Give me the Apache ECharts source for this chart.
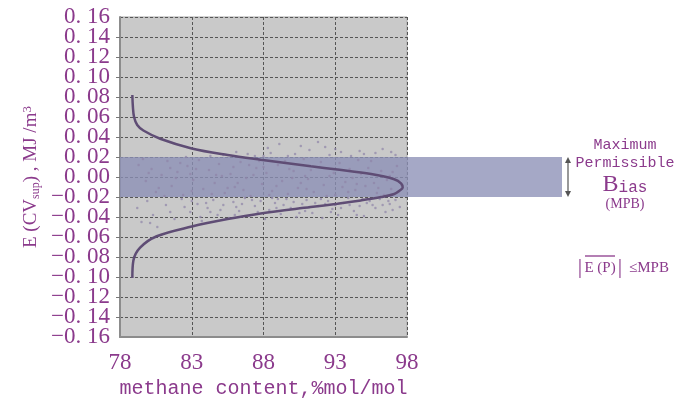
<!DOCTYPE html>
<html>
<head>
<meta charset="utf-8">
<script src="https://cdn.jsdelivr.net/npm/echarts@6/dist/echarts.min.js"></script>
<style>
html,body{margin:0;padding:0;background:#fff;}
#c{width:689px;height:404px;}
</style>
</head>
<body>
<div id="c"></div>
<script>
// ---- data ----
const xTickLabels = ['78', '83', '88', '93', '98'];
const yTickLabels = ['\u22120. 16','\u22120. 14','\u22120. 12','\u22120. 10','\u22120. 08','\u22120. 06','\u22120. 04','\u22120. 02',
  '0. 00','0. 02','0. 04','0. 06','0. 08','0. 10','0. 12','0. 14','0. 16'];

// distribution curve (methane content, E)
const curveX = [78.86, 78.9, 78.98, 79.2, 79.63, 80.8, 83.0, 85.5, 87.8, 91.3, 93.15, 95.5, 97.11, 97.6, 97.7,
  97.5, 97.11, 96.2, 94.78, 93.15, 91.29, 87.8, 85.5, 83.0, 80.56, 79.4, 78.93, 78.86];
const curveY = [0.082, 0.07, 0.06, 0.052, 0.0465, 0.0383, 0.0286, 0.022, 0.0173, 0.0107, 0.0075, 0.003, -0.0022, -0.0065, -0.0104,
  -0.0135, -0.0169, -0.02, -0.0234, -0.0267, -0.030, -0.0364, -0.042, -0.0495, -0.0592, -0.0706, -0.0836, -0.1008];

// scattered observations
const pointsAbove = [[85.2,0.022],[86.1,0.025],[87.4,0.021],[88.3,0.029],[88.5,0.024],[89.7,0.021],[90.6,0.031],[91.2,0.027],
  [91.8,0.035],[92.3,0.030],[92.6,0.022],[93.4,0.025],[94.1,0.021],[95.0,0.023],[95.8,0.024],[96.3,0.028],[97.2,0.022],
  [84.3,0.021],[82.6,0.020],[89.1,0.033],[90.2,0.023],[94.7,0.026],[96.9,0.025],[86.9,0.023],[88.0,0.021],[93.0,0.028]];
const pointsBand = [[79.3,0.012],[79.8,-0.004],[80.2,0.008],[80.5,-0.015],[80.9,0.002],[81.3,0.016],[81.6,-0.009],[82.0,0.005],
  [82.4,-0.018],[82.7,0.011],[83.1,-0.003],[83.5,0.017],[83.8,-0.012],[84.2,0.007],[84.6,-0.006],[84.9,0.013],[85.3,-0.016],
  [85.7,0.003],[86.0,-0.01],[86.4,0.015],[86.8,-0.001],[87.1,-0.019],[87.5,0.009],[87.9,-0.007],[88.2,0.004],[88.6,-0.014],
  [89.0,0.012],[89.3,-0.004],[89.7,-0.017],[90.1,0.006],[90.4,-0.011],[90.8,0.018],[91.1,-0.002],[91.5,-0.015],[91.9,0.01],
  [92.2,-0.008],[92.6,0.001],[93.0,-0.018],[93.3,0.014],[93.7,-0.005],[94.0,0.008],[94.4,-0.013],[94.8,0.003],[95.1,-0.009],
  [95.5,0.016],[95.9,-0.016],[96.2,0.006],[96.6,-0.003],[96.9,-0.012],[97.3,0.011],[79.6,0.018],[80.7,-0.011],[81.9,-0.001],
  [83.3,0.008],[84.4,-0.017],[85.9,0.01],[86.6,-0.013],[87.7,0.016],[88.9,-0.009],[90.0,-0.001],[91.3,0.007],[92.4,-0.019],
  [93.5,-0.01],[94.6,0.017],[95.7,-0.006],[96.8,0.001],[97.6,-0.008],[82.2,0.014],[85.1,0.001],[89.5,0.016],[92.9,0.004],
  [96.4,-0.018],[81.1,-0.019],[87.3,0.002],[90.6,-0.006],[94.2,-0.001],[80.0,0.004],[81.5,0.009],[83.0,-0.014],[84.7,0.002],
  [86.2,-0.006],[87.0,0.012],[88.4,-0.018],[89.8,0.008],[91.0,-0.012],[92.0,0.015],[93.9,-0.015],[95.3,0.009],[96.0,-0.011],
  [97.0,0.005],[82.9,0.003],[85.5,-0.011],[88.0,0.01],[90.9,0.001],[94.5,-0.007],[97.4,-0.015]];
const pointsBelow = [[79.2,-0.031],[79.5,-0.045],[79.9,-0.024],[80.3,-0.038],[80.6,-0.05],[81.2,-0.028],[81.8,-0.042],
  [82.3,-0.022],[82.9,-0.035],[83.4,-0.027],[83.7,-0.044],[84.1,-0.031],[84.5,-0.023],[84.8,-0.038],[85.2,-0.028],[85.6,-0.041],
  [85.9,-0.025],[86.3,-0.034],[86.7,-0.021],[87.0,-0.039],[87.4,-0.029],[87.8,-0.024],[88.1,-0.042],[88.4,-0.033],[88.8,-0.026],
  [89.2,-0.037],[89.6,-0.022],[89.9,-0.031],[90.3,-0.04],[90.7,-0.027],[91.0,-0.023],[91.4,-0.036],[91.8,-0.029],[92.1,-0.041],
  [92.5,-0.024],[92.8,-0.032],[93.2,-0.038],[93.6,-0.026],[93.9,-0.021],[94.3,-0.034],[94.7,-0.029],[95.0,-0.039],[95.4,-0.024],
  [95.8,-0.031],[96.1,-0.022],[96.5,-0.035],[96.8,-0.027],[97.2,-0.023],[97.5,-0.03],[86.1,-0.03],[88.6,-0.021],[90.9,-0.034],
  [93.0,-0.028],[95.2,-0.026],[84.0,-0.026],[87.6,-0.035],[91.6,-0.026],[94.9,-0.022],[82.5,-0.03],[89.4,-0.028],[92.7,-0.035],
  [96.3,-0.028],[80.1,-0.046],[83.6,-0.04],[81.5,-0.035],[85.0,-0.033],[86.5,-0.027],[87.2,-0.023],[88.9,-0.031],[90.1,-0.025],
  [91.2,-0.03],[92.3,-0.027],[93.4,-0.031],[94.0,-0.028],[95.6,-0.028],[96.7,-0.024],[97.0,-0.033],[89.0,-0.022],[92.0,-0.022],
  [83.0,-0.024],[84.3,-0.035],[86.0,-0.038],[94.5,-0.038],[90.5,-0.036]];

// maximum permissible bias band limits
const mpbUpper = 0.02;
const mpbLower = -0.02;

const xMin = 78, xMax = 98, xStep = 5;
const yMin = -0.16, yMax = 0.16, yStep = 0.02;

// ---- chart ----
const PURPLE = '#8b3a8c';
const chart = echarts.init(document.getElementById('c'), null, {renderer: 'canvas'});

const curveData = curveX.map((x, i) => [x, curveY[i]]);
const scatterData = pointsAbove.concat(pointsBand, pointsBelow);
const yFmt = v => yTickLabels[Math.round((v - yMin) / yStep)];
const yLabelStyle = {color: PURPLE, fontFamily: 'Liberation Serif', fontSize: 23, margin: 10};

const option = {
  animation: false,
  grid: {left: 120, right: 282, top: 17, bottom: 58, show: true,
         backgroundColor: '#c9c9c9', borderColor: '#a8a8a8', borderWidth: 1},
  xAxis: {
    type: 'value', min: xMin, max: xMax, interval: xStep,
    axisLine: {show: true, onZero: false, lineStyle: {color: '#8c8c8c', width: 2}},
    axisTick: {show: false},
    splitLine: {show: true, lineStyle: {color: '#555', type: [3, 2], width: 1}},
    axisLabel: {
      color: PURPLE, fontFamily: 'Liberation Serif', fontSize: 23, margin: 14,
      showMinLabel: true, showMaxLabel: true, interval: 0, hideOverlap: false,
      formatter: v => xTickLabels[Math.round((v - xMin) / xStep)]
    },
    name: 'methane content,%mol/mol', nameLocation: 'middle', nameGap: 41,
    nameTextStyle: {color: PURPLE, fontFamily: 'Liberation Mono', fontSize: 20}
  },
  yAxis: [{
    type: 'value', min: yMin, max: yMax, interval: yStep, position: 'left',
    axisLine: {show: true, onZero: false, lineStyle: {color: '#8c8c8c', width: 2}},
    axisTick: {show: true, length: 4, lineStyle: {color: '#777'}},
    splitLine: {show: true, lineStyle: {color: '#555', type: [3, 2], width: 1}},
    axisLabel: Object.assign({showMinLabel: false, showMaxLabel: false, interval: 0, formatter: yFmt}, yLabelStyle),
    name: 'E (CV{s|sup}) , MJ /m{p|3}', nameLocation: 'middle', nameGap: 78,
    nameTextStyle: {
      color: PURPLE, fontFamily: 'Liberation Serif', fontSize: 19,
      rich: {
        s: {color: PURPLE, fontFamily: 'Liberation Serif', fontSize: 12, verticalAlign: 'bottom', padding: [8, 0, 0, 0]},
        p: {color: PURPLE, fontFamily: 'Liberation Serif', fontSize: 13, verticalAlign: 'top', padding: [0, 0, 8, 0]}
      }
    }
  }, {
    // carries only the end labels (-0.16 / 0.16)
    type: 'value', min: yMin, max: yMax, interval: yMax - yMin, position: 'left', offset: 0,
    axisLine: {show: false}, axisTick: {show: false}, splitLine: {show: false},
    axisLabel: Object.assign({showMinLabel: true, showMaxLabel: true, interval: 0, formatter: yFmt}, yLabelStyle)
  }],
  series: [
    {type: 'scatter', data: scatterData, symbolSize: 2.5, z: 4,
     itemStyle: {color: '#8f84a8', opacity: 0.7}, silent: true},
    {type: 'line', data: curveData, smooth: 0.35, showSymbol: false, z: 5,
     lineStyle: {color: '#5f4d75', width: 2.5}, silent: true}
  ]
};
chart.setOption(option);

// band + annotations positioned from the axes
const pTop = chart.convertToPixel({gridIndex: 0}, [xMin, mpbUpper]);
const pBot = chart.convertToPixel({gridIndex: 0}, [xMin, mpbLower]);
const bandRight = 562;
const arrowX = 568;

chart.setOption({
  graphic: [
    {type: 'rect', z: 1, silent: true,
     shape: {x: pTop[0], y: pTop[1], width: bandRight - pTop[0], height: pBot[1] - pTop[1]},
     style: {fill: 'rgba(140,143,182,0.78)'}},
    // double arrow
    {type: 'line', z: 4, shape: {x1: arrowX, y1: pTop[1] + 4, x2: arrowX, y2: pBot[1] - 4},
     style: {stroke: '#555', lineWidth: 1.2}},
    {type: 'polygon', z: 4, shape: {points: [[arrowX - 3, pTop[1] + 6], [arrowX + 3, pTop[1] + 6], [arrowX, pTop[1]]]},
     style: {fill: '#555'}},
    {type: 'polygon', z: 4, shape: {points: [[arrowX - 3, pBot[1] - 6], [arrowX + 3, pBot[1] - 6], [arrowX, pBot[1]]]},
     style: {fill: '#555'}},
    // texts
    {type: 'text', z: 4, x: 625, y: 145, style: {text: 'Maximum', fill: PURPLE, font: '15px "Liberation Mono"', align: 'center', verticalAlign: 'middle'}},
    {type: 'text', z: 4, x: 625, y: 163, style: {text: 'Permissible', fill: PURPLE, font: '15px "Liberation Mono"', align: 'center', verticalAlign: 'middle'}},
    {type: 'text', z: 4, x: 625, y: 185, style: {
      text: '{b|B}{r|ias}', align: 'center', verticalAlign: 'middle',
      rich: {b: {fill: PURPLE, font: '24px "Liberation Serif"', verticalAlign: 'bottom'},
             r: {fill: PURPLE, font: '16px "Liberation Mono"', verticalAlign: 'bottom', padding: [0, 0, 1, 0]}}}},
    {type: 'text', z: 4, x: 625, y: 204, style: {text: '(MPB)', fill: PURPLE, font: '14px "Liberation Serif"', align: 'center', verticalAlign: 'middle'}},
    {type: 'text', z: 4, x: 580, y: 267, style: {text: '|', fill: PURPLE, font: '22px "Liberation Serif"', align: 'center', verticalAlign: 'middle'}},
    {type: 'text', z: 4, x: 600, y: 268, style: {text: 'E (P)', fill: PURPLE, font: '15px "Liberation Serif"', align: 'center', verticalAlign: 'middle'}},
    {type: 'line', z: 4, shape: {x1: 585, y1: 256, x2: 615, y2: 256}, style: {stroke: PURPLE, lineWidth: 1.3}},
    {type: 'text', z: 4, x: 620, y: 267, style: {text: '|', fill: PURPLE, font: '22px "Liberation Serif"', align: 'center', verticalAlign: 'middle'}},
    {type: 'text', z: 4, x: 649, y: 268, style: {text: '\u2264MPB', fill: PURPLE, font: '15px "Liberation Serif"', align: 'center', verticalAlign: 'middle'}}
  ]
});
</script>
</body>
</html>
